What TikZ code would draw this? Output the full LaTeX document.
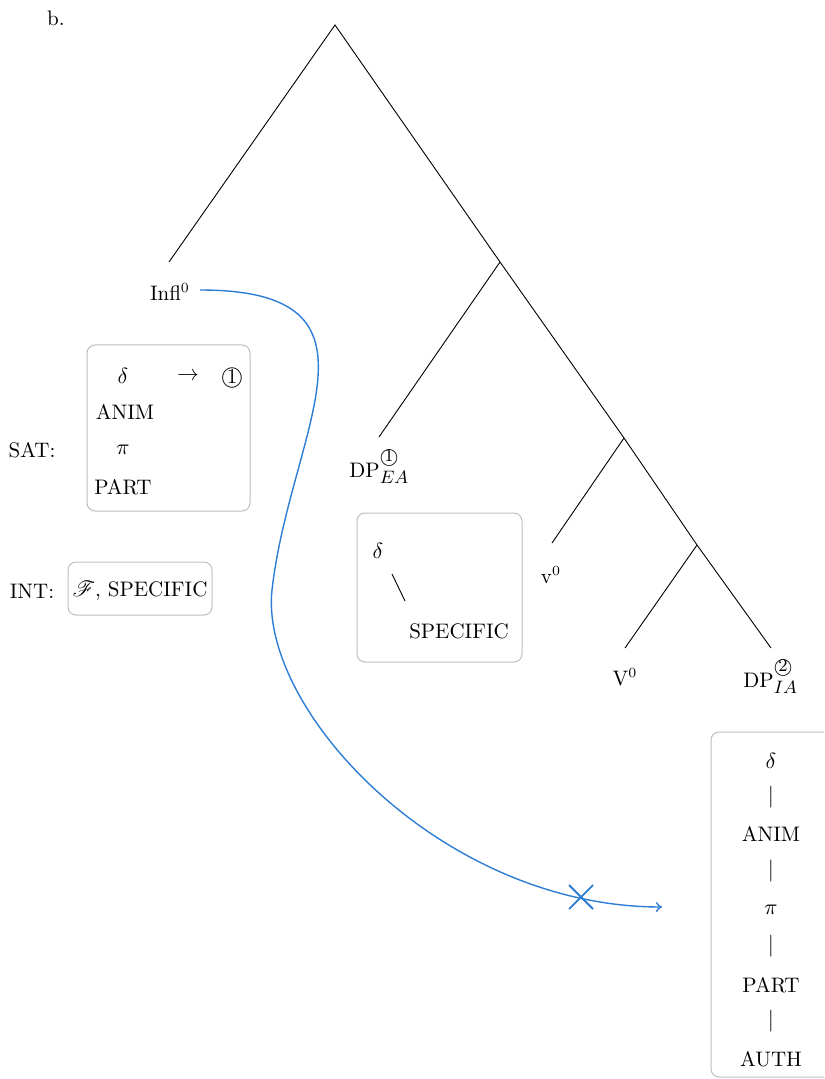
\documentclass[tikz,border=0pt]{standalone}
\usepackage{fontspec}
\usepackage{amsmath}
\usepackage{mathrsfs}
\usetikzlibrary{arrows.meta}
\definecolor{curveblue}{RGB}{45,125,212}
\definecolor{boxgray}{RGB}{190,190,190}
\newcommand{\cnum}[1]{\ooalign{$\bigcirc$\cr\hfil\raisebox{0.05ex}{#1}\hfil\cr}}
\begin{document}
\begin{tikzpicture}[x=0.5pt,y=-0.5pt,
  lbl/.style={inner sep=0pt,font=\fontsize{10.5}{12}\selectfont},
  fbox/.style={draw=boxgray,rounded corners=4pt,line width=0.5pt},
  branch/.style={line width=0.45pt},
  mover/.style={curveblue,line width=0.7pt}]
\useasboundingbox (0,0) rectangle (824,1079);
\clip (0,0) rectangle (824,1079);
% label b.
\node[lbl] (b) at (56,18) {b.};
% tree coordinates
\coordinate (root) at (335,25);
\coordinate (lft) at (169,262);
\coordinate (n1) at (500,262);
\coordinate (dpl) at (379,437);
\coordinate (n2) at (624,438);
\coordinate (vl) at (552,543);
\coordinate (n3) at (697,545);
\coordinate (Vl) at (625,648);
\coordinate (rt) at (771,648);
\draw[branch] (lft) -- (root) -- (n1) -- (n2) -- (n3) -- (rt);
\draw[branch] (n1) -- (dpl);
\draw[branch] (n2) -- (vl);
\draw[branch] (n3) -- (Vl);
% tree labels
\node[lbl] (infl) at (170,292) {Infl$^0$};
\node[lbl,anchor=base west] (dpea) at (349,477)
  {DP\rlap{\raisebox{7.5pt}{\small\cnum{1}}}\raisebox{-3pt}{\small$EA$}};
\node[lbl] (vsmall) at (551,575) {v$^0$};
\node[lbl] (Vbig) at (625,677) {V$^0$};
\node[lbl,anchor=base west] (dpia) at (743,687)
  {DP\rlap{\raisebox{7.5pt}{\small\cnum{2}}}\raisebox{-3pt}{\small$IA$}};
% SAT box
\draw[fbox] (87,345) rectangle (250,511);
\node[lbl] (sat) at (32,450) {SAT:};
\node[lbl] (sd) at (123,376) {$\delta$};
\node[lbl] (sarr) at (188,376) {$\rightarrow$};
\node[lbl] (sone) at (232,376) {\cnum{1}};
\node[lbl] (sanim) at (125,412) {ANIM};
\node[lbl] (spi) at (123,450) {$\pi$};
\node[lbl] (spart) at (123,487) {PART};
% INT box
\draw[fbox] (68,562) rectangle (212,615);
\node[lbl] (int) at (32,591) {INT:};
\node[lbl] (intc) at (140,591) {$\mathscr{F}$, SPECIFIC};
% middle box
\draw[fbox] (357,513) rectangle (522,662);
\node[lbl] (md) at (378,551) {$\delta$};
\node[lbl] (mspec) at (459,631) {SPECIFIC};
\coordinate (ma) at (392,574);
\coordinate (mb) at (405,601);
\draw[branch] (ma) -- (mb);
% right box
\draw[fbox] (711,732) rectangle (860,1077);
\node[lbl] (rd) at (771,761) {$\delta$};
\node[lbl] (rb1) at (771,797) {$|$};
\node[lbl] (ranim) at (771,834) {ANIM};
\node[lbl] (rb2) at (771,871) {$|$};
\node[lbl] (rpi) at (771,910) {$\pi$};
\node[lbl] (rb3) at (771,946) {$|$};
\node[lbl] (rpart) at (771,985) {PART};
\node[lbl] (rb4) at (771,1021) {$|$};
\node[lbl] (rauth) at (771,1059) {AUTH};
% movement curve
\coordinate (cs) at (200,290);
\coordinate (cm) at (272,590);
\coordinate (ce) at (662,907);
\draw[mover,-{To[length=3pt,width=5pt]}] (cs) .. controls (400,290) and (290,430) .. (cm)
   .. controls (259,710) and (442,907) .. (ce);
% cross
\coordinate (x1) at (569,885);
\coordinate (x2) at (593,909);
\coordinate (x3) at (569,909);
\coordinate (x4) at (593,885);
\draw[mover,line width=0.9pt] (x1) -- (x2) (x3) -- (x4);
\end{tikzpicture}
\end{document}
